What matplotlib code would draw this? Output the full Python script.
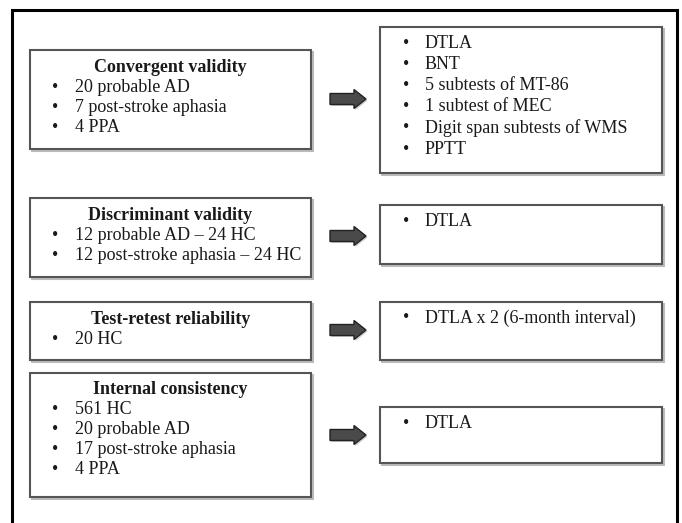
import matplotlib
matplotlib.use("Agg")
import matplotlib.pyplot as plt
from matplotlib.patches import Rectangle, FancyArrow

# ---- content ----
left_titles = ["Convergent validity", "Discriminant validity",
               "Test-retest reliability", "Internal consistency"]
left_items = [
    ["20 probable AD", "7 post-stroke aphasia", "4 PPA"],
    ["12 probable AD \u2013 24 HC", "12 post-stroke aphasia \u2013 24 HC"],
    ["20 HC"],
    ["561 HC", "20 probable AD", "17 post-stroke aphasia", "4 PPA"],
]
right_items = [
    ["DTLA", "BNT", "5 subtests of MT-86", "1 subtest of MEC",
     "Digit span subtests of WMS", "PPTT"],
    ["DTLA"],
    ["DTLA x 2 (6-month interval)"],
    ["DTLA"],
]

# ---- layout (pixels) ----
W, H = 682, 523
left_boxes = [(30, 50, 311, 149), (30, 198, 311, 277), (30, 302, 311, 360), (30, 373, 311, 497)]
right_boxes = [(380, 27, 662, 173), (380, 205, 662, 264), (380, 302, 662, 360), (380, 407, 662, 463)]
arrow_y = [99, 236, 330, 435]

plt.rcParams['font.family'] = ['Liberation Serif', 'DejaVu Serif']
fig = plt.figure(figsize=(W / 100, H / 100), dpi=100)
ax = fig.add_axes([0, 0, 1, 1])
ax.set_xlim(0, W)
ax.set_ylim(H, 0)
ax.axis('off')

# outer frame (no bottom edge)
ax.plot([12, 12, 677, 677], [H + 5, 10, 10, H + 5], color='black', lw=2.2,
        solid_joinstyle='miter', clip_on=False)

def box(x0, y0, x1, y1):
    ax.add_patch(Rectangle((x0 + 1.5, y0 + 1.5), x1 - x0, y1 - y0,
                           fc='none', ec='#bbbbbb', lw=1.5))
    ax.add_patch(Rectangle((x0, y0), x1 - x0, y1 - y0,
                           fc='white', ec='#555555', lw=1.5))

fs = 13
lh = 20
tc = '#1a1a1a'
for (x0, y0, x1, y1), title, items in zip(left_boxes, left_titles, left_items):
    box(x0, y0, x1, y1)
    ty = y0 + 17
    ax.text((x0 + x1) / 2, ty, title, fontsize=fs, fontweight='bold',
            ha='center', va='center', color=tc)
    for i, it in enumerate(items):
        y = ty + lh * (i + 1)
        ax.text(x0 + 25, y, "\u2022", fontsize=fs, ha='center', va='center', color=tc)
        ax.text(x0 + 45, y, it, fontsize=fs, ha='left', va='center', color=tc)

for (x0, y0, x1, y1), items in zip(right_boxes, right_items):
    box(x0, y0, x1, y1)
    for i, it in enumerate(items):
        y = y0 + 16 + 21.2 * i
        ax.text(x0 + 26, y, "\u2022", fontsize=fs, ha='center', va='center', color=tc)
        ax.text(x0 + 45, y, it, fontsize=fs, ha='left', va='center', color=tc)

for y in arrow_y:
    ax.add_patch(FancyArrow(331.5, y + 1.5, 36, 0, width=11, head_width=19, head_length=12,
                            length_includes_head=True, fc='#cccccc', ec='none'))
    ax.add_patch(FancyArrow(330, y, 36, 0, width=11, head_width=19, head_length=12,
                            length_includes_head=True, fc='#4a4a4a', ec='#222222', lw=1))

fig.savefig("out.png", dpi=100)
